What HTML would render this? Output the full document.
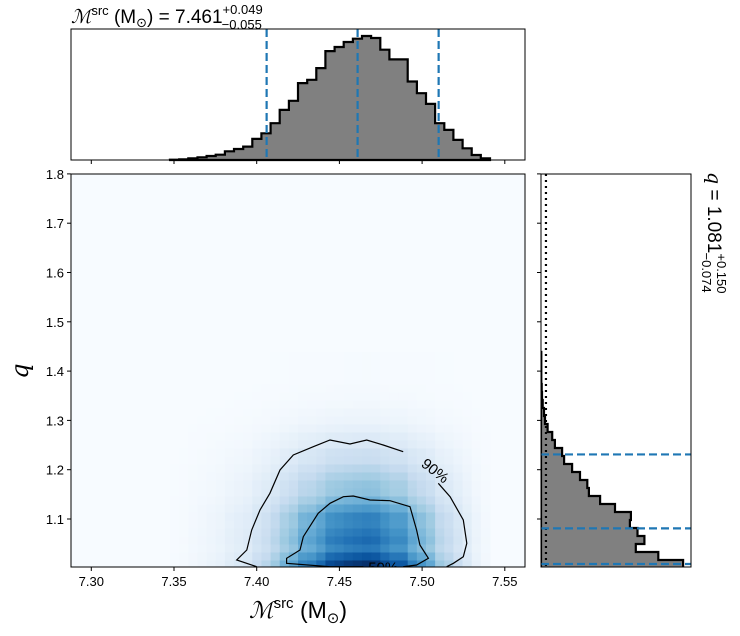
<!DOCTYPE html>
<html><head><meta charset="utf-8"><style>
body{margin:0;background:#fff;}
svg{display:block;font-family:"Liberation Sans","DejaVu Sans",sans-serif;}
</style></head><body>
<svg id="c" width="740" height="636" xmlns="http://www.w3.org/2000/svg">
<text x="71" y="23" font-size="19"><tspan font-family="DejaVu Serif, serif" font-style="italic">ℳ</tspan><tspan font-size="13" dy="-8">src</tspan><tspan dy="8"> (M</tspan><tspan font-size="13" dy="4">⊙</tspan><tspan dy="-4">) = 7.461</tspan><tspan font-size="13" dy="-9">+0.049</tspan><tspan font-size="13" dx="-41" dy="15">−0.055</tspan></text>
<text transform="translate(708,172) rotate(90)" font-size="19"><tspan font-style="italic" font-family="DejaVu Serif, serif">q</tspan><tspan> = 1.081</tspan><tspan font-size="13" dy="-9">+0.150</tspan><tspan font-size="13" dx="-41" dy="15">−0.074</tspan></text>
<text transform="translate(28,371) rotate(-90)" font-size="24" font-style="italic" font-family="DejaVu Serif, serif" text-anchor="middle">q</text>
<text x="298" y="618" font-size="23" text-anchor="middle"><tspan font-family="DejaVu Serif, serif" font-style="italic">ℳ</tspan><tspan font-size="15" dy="-10">src</tspan><tspan dy="10"> (M</tspan><tspan font-size="15" dy="5">⊙</tspan><tspan dy="-5">)</tspan></text>
<g id="g"></g>
</svg>
<script>
const massCounts=[1,2,5,8,12,16,26,33,40,63,80,110,150,177,230,240,275,326,338,353,363,371,365,330,301,301,235,200,168,110,90,60,35,15,5];
const massStart=7.3476, massBin=0.005527;
const qCounts=[430,355,287,313,292,269,272,224,179,145,140,118,94,70,64,42,34,20,12,9,5,3,2,1,1,1,1];
const qStart=1.0006, qBin=0.01623;
const massQuantiles=[7.406,7.461,7.510];
const qQuantiles=[1.0087,1.081,1.231];
const xTicks=[7.30,7.35,7.40,7.45,7.50,7.55];
const yTicks=[1.1,1.2,1.3,1.4,1.5,1.6,1.7,1.8];
const c90m=[7.4000,7.3879,7.3940,7.3970,7.4020,7.4080,7.4141,7.4221,7.4342,7.4443,7.4564,7.4665,7.4765,7.4886];
const c90q=[1.0033,1.0168,1.0371,1.0777,1.1183,1.1521,1.1994,1.2298,1.2467,1.2602,1.2521,1.2602,1.2501,1.2365];
const c90bm=[7.5098,7.5169,7.5249,7.5270,7.5249,7.5189,7.5149];
const c90bq=[1.1724,1.1452,1.0980,1.0507,1.0235,1.0101,1.0033];
const c50m=[7.4645,7.4443,7.4181,7.4181,7.4262,7.4282,7.4372,7.4443,7.4524,7.4584,7.4685,7.4806,7.4927,7.4967,7.4987,7.5038,7.4967,7.4886];
const c50q=[1.0033,1.0033,1.0101,1.0203,1.0371,1.0641,1.1116,1.1318,1.1452,1.1467,1.1385,1.1371,1.1249,1.0777,1.0473,1.0203,1.0067,1.0033];

const NS='http://www.w3.org/2000/svg', G=document.getElementById('g');
function mk(t,a,p){const e=document.createElementNS(NS,t);for(const k in a)e.setAttribute(k,a[k]);(p||G).appendChild(e);return e;}
const MX0=71,MX1=525,MY0=174,MY1=567,TY0=29,TY1=160,RX0=541,RX1=691;
const xS=v=>174+(v-7.35)*1654;
const yS=v=>519-(v-1.1)*493;
const tMax=392, rMax=454;
const tY=v=>TY1-v/tMax*(TY1-TY0);
const rX=v=>RX0+v/rMax*(RX1-RX0);
mk('clipPath',{id:'cm'}).appendChild(mk('rect',{x:MX0,y:MY0,width:MX1-MX0,height:MY1-MY0}));
// main bg
let e=mk('rect',{x:MX0,y:MY0,width:MX1-MX0,height:MY1-MY0,fill:'#f7fbff'});

const stops=['#f7fbff','#deebf7','#c6dbef','#9ecae1','#6baed6','#4292c6','#2171b5','#08519c','#08306b'];
function hx(h){return [1,3,5].map(i=>parseInt(h.substr(i,2),16));}
function cmap(t){t=Math.max(0,Math.min(1,t))*8;const i=Math.min(7,Math.floor(t)),f=t-i;const a=hx(stops[i]),b=hx(stops[i+1]);return 'rgb('+a.map((v,k)=>Math.round(v+(b[k]-v)*f)).join(',')+')';}
const hm=mk('g',{'clip-path':'url(#cm)'});

const mxM=Math.max(...massCounts),mxQ=Math.max(...qCounts);
massCounts.forEach((a,i)=>{qCounts.forEach((b,j)=>{
  const v=(a/mxM)*(b/mxQ);
  const x0=xS(massStart+i*massBin),x1=xS(massStart+(i+1)*massBin),y0=yS(qStart+(j+1)*qBin),y1=yS(qStart+j*qBin);
  const r=mk('rect',{x:x0,y:y0,width:x1-x0+0.5,height:y1-y0+0.5,fill:cmap(Math.pow(v,0.8))},hm);
  
});});
function poly(ms,qs,name){const d=ms.map((m,i)=>(i?'L':'M')+xS(m).toFixed(1)+','+yS(qs[i]).toFixed(1)).join('');
  const p=mk('path',{d:d,fill:'none',stroke:'#000','stroke-width':1.2},hm);}
poly(c90m,c90q,'contour-90-left');poly(c90bm,c90bq,'contour-90-right');poly(c50m,c50q,'contour-50');
e=mk('text',{x:0,y:0,'font-size':15,transform:'translate('+xS(7.506)+','+(yS(1.20)+5)+') rotate(38)','text-anchor':'middle'},hm);e.textContent='90%';

e=mk('text',{x:xS(7.4765),y:yS(1.0033)+6,'font-size':15,'text-anchor':'middle'},hm);e.textContent='50%';

e=mk('rect',{x:MX0,y:MY0,width:MX1-MX0,height:MY1-MY0,fill:'none',stroke:'#000','stroke-width':1});

xTicks.forEach(t=>{const x=xS(t);mk('line',{x1:x,x2:x,y1:MY1,y2:MY1+4,stroke:'#000'});mk('line',{x1:x,x2:x,y1:TY1,y2:TY1+4,stroke:'#000'});
  const l=mk('text',{x:x,y:MY1+19,'font-size':13,'text-anchor':'middle'});l.textContent=t.toFixed(2);});
yTicks.forEach(t=>{const y=yS(t);mk('line',{x1:MX0,x2:MX0-4,y1:y,y2:y,stroke:'#000'});mk('line',{x1:RX0,x2:RX0-4,y1:y,y2:y,stroke:'#000'});
  const l=mk('text',{x:MX0-7,y:y+5,'font-size':13,'text-anchor':'end'});l.textContent=t.toFixed(1);});
// top hist
let d='M'+xS(massStart)+','+TY1;
massCounts.forEach((v,i)=>{d+='L'+xS(massStart+i*massBin).toFixed(1)+','+tY(v).toFixed(1)+'L'+xS(massStart+(i+1)*massBin).toFixed(1)+','+tY(v).toFixed(1);});
d+='L'+xS(massStart+massCounts.length*massBin).toFixed(1)+','+TY1+'Z';
e=mk('path',{d:d,fill:'#808080',stroke:'#000','stroke-width':2.2});
massQuantiles.forEach(v=>{const l=mk('line',{x1:xS(v),x2:xS(v),y1:TY0,y2:TY1,stroke:'#1f77b4','stroke-width':2.2,'stroke-dasharray':'8,4'});});
e=mk('rect',{x:MX0,y:TY0,width:MX1-MX0,height:TY1-TY0,fill:'none',stroke:'#000'});
// right hist
const rc=mk('clipPath',{id:'cr'});mk('rect',{x:RX0,y:MY0,width:RX1-RX0,height:MY1-MY0},rc);
const rg=mk('g',{'clip-path':'url(#cr)'});
d='M'+RX0+','+yS(qStart);
qCounts.forEach((v,j)=>{d+='L'+rX(v).toFixed(1)+','+yS(qStart+j*qBin).toFixed(1)+'L'+rX(v).toFixed(1)+','+yS(qStart+(j+1)*qBin).toFixed(1);});
d+='L'+RX0+','+yS(qStart+qCounts.length*qBin).toFixed(1)+'Z';
e=mk('path',{d:d,fill:'#808080',stroke:'#000','stroke-width':2.2},rg);
e=mk('line',{x1:rX(15),x2:rX(15),y1:MY0,y2:MY1,stroke:'#000','stroke-width':2.2,'stroke-dasharray':'2,4'},rg);
qQuantiles.forEach(v=>{const l=mk('line',{x1:RX0,x2:RX1,y1:yS(v),y2:yS(v),stroke:'#1f77b4','stroke-width':2.2,'stroke-dasharray':'8,4'},rg);});
e=mk('rect',{x:RX0,y:MY0,width:RX1-RX0,height:MY1-MY0,fill:'none',stroke:'#000'});
</script>
</body></html>
